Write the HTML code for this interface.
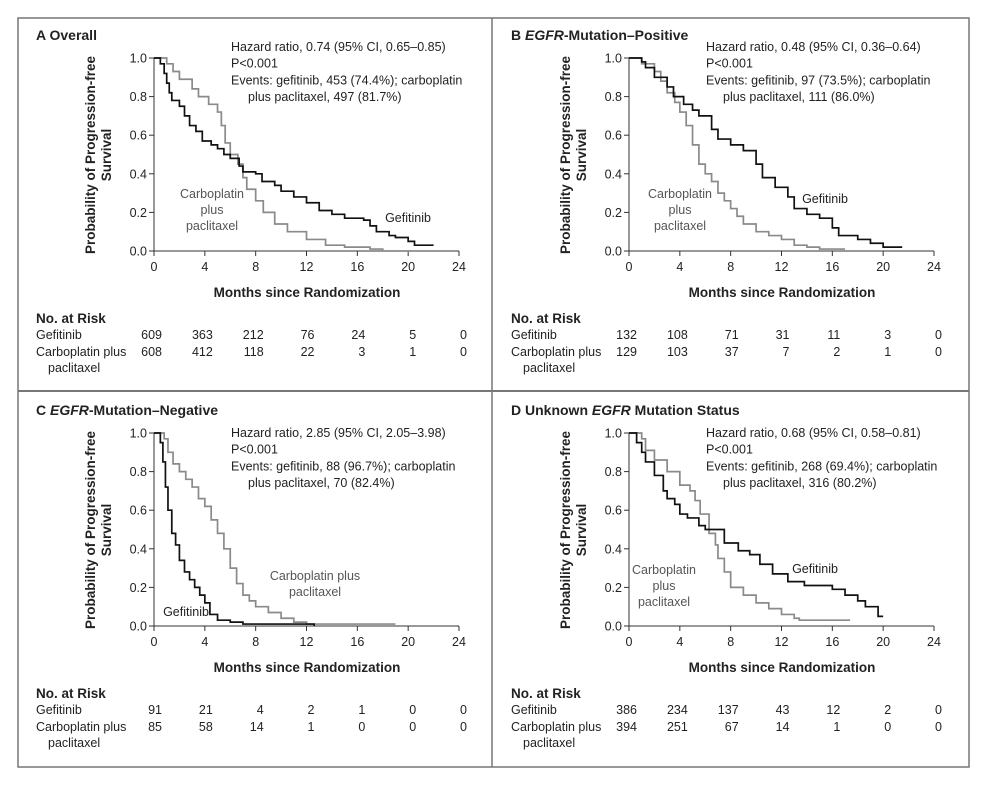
<!DOCTYPE html>
<html><head><meta charset="utf-8"><style>
body{margin:0;background:#fff}
svg{display:block;font-family:"Liberation Sans",sans-serif}
text{fill:#222}
</style></head><body>
<svg id="fig" width="985" height="787">
<rect x="18" y="18" width="951" height="749" fill="#fff" stroke="#777" stroke-width="1.5"/>
<line x1="492" y1="18" x2="492" y2="767" stroke="#777" stroke-width="1.5"/>
<line x1="18" y1="391" x2="969" y2="391" stroke="#777" stroke-width="2"/>
</svg>
<script>
const months=[0,4,8,12,16,20,24];
const yTicks=[0,0.2,0.4,0.6,0.8,1.0];
const gefA=[[0,1],[0.5,.97],[0.8,.92],[1,.87],[1.2,.82],[1.4,.78],[2,.75],[2.4,.70],[2.8,.65],[3.3,.62],[3.8,.57],[4.5,.55],[5,.53],[5.5,.50],[6,.48],[6.7,.44],[7,.41],[8,.40],[8.5,.36],[9.5,.34],[10,.31],[11,.28],[12,.25],[13,.21],[14,.19],[15,.17],[16.5,.16],[17,.13],[17.5,.10],[18.5,.08],[19,.07],[20,.05],[20.5,.03],[22,.03]];
const carA=[[0,1],[1,.97],[1.5,.93],[2,.89],[3,.84],[3.5,.80],[4.3,.76],[5,.72],[5.3,.65],[5.6,.56],[6,.50],[6.6,.45],[7,.38],[7.3,.32],[8,.26],[8.6,.20],[9.5,.14],[10.5,.10],[12,.06],[13.5,.03],[15,.02],[17,.01],[18,0],[20.5,0]];
const gefB=[[0,1],[1,.98],[1.3,.95],[2,.90],[3,.85],[3.5,.80],[4.3,.76],[5,.73],[5.5,.70],[6.5,.63],[7,.58],[8,.55],[9,.52],[10,.45],[10.5,.38],[11.5,.33],[12.5,.28],[13,.22],[14,.19],[15,.17],[16,.12],[16.5,.08],[18,.06],[19,.04],[20,.02],[21.5,.02]];
const carB=[[0,1],[1,.97],[2,.93],[2.5,.88],[3,.82],[3.6,.77],[4,.72],[4.5,.65],[5,.55],[5.5,.45],[6,.40],[6.5,.36],[7,.30],[7.5,.26],[8,.22],[8.5,.18],[9,.14],[10,.10],[11,.08],[12,.06],[13,.03],[14,.02],[15,.01],[17,.01]];
const gefC=[[0,1],[0.5,.95],[0.7,.85],[0.9,.72],[1.1,.60],[1.4,.48],[1.7,.42],[2,.34],[2.4,.28],[2.8,.24],[3.2,.20],[3.6,.16],[4,.12],[4.4,.06],[5,.03],[6,.02],[7,.01],[12.6,.01],[12.6,0]];
const carC=[[0,1],[0.8,.97],[1.1,.90],[1.5,.84],[2,.80],[2.5,.76],[3,.72],[3.5,.66],[4,.62],[4.5,.55],[5,.48],[5.5,.40],[6,.30],[6.5,.22],[7,.16],[7.5,.13],[8,.10],[9,.07],[10,.04],[11,.02],[12,.01],[19,.01]];
const gefD=[[0,1],[0.6,.95],[1,.90],[1.3,.85],[2,.78],[2.7,.70],[3,.66],[3.6,.63],[4,.58],[4.6,.56],[5.5,.52],[6,.50],[7.5,.43],[8.6,.39],[9.5,.37],[10.3,.32],[11.3,.27],[12.5,.23],[13.8,.21],[16,.19],[17,.16],[18,.13],[18.6,.10],[19.6,.05],[20,.05]];
const carD=[[0,1],[1,.97],[1.3,.91],[2,.86],[3,.80],[4,.73],[4.8,.70],[5.2,.65],[5.6,.58],[6.3,.48],[6.8,.42],[7,.35],[7.5,.28],[8,.20],[9,.16],[10,.12],[11,.09],[12,.06],[13,.04],[13.4,.03],[17.4,.03]];
const riskGefA=[609,363,212,76,24,5,0], riskCarA=[608,412,118,22,3,1,0];
const riskGefB=[132,108,71,31,11,3,0], riskCarB=[129,103,37,7,2,1,0];
const riskGefC=[91,21,4,2,1,0,0], riskCarC=[85,58,14,1,0,0,0];
const riskGefD=[386,234,137,43,12,2,0], riskCarD=[394,251,67,14,1,0,0];

const NS='http://www.w3.org/2000/svg';
const svg=document.getElementById('fig');
function el(tag,attrs,txt,parent){const e=document.createElementNS(NS,tag);for(const k in attrs)e.setAttribute(k,attrs[k]);if(txt!==undefined)e.textContent=txt;(parent||svg).appendChild(e);return e;}

const panels=[
 {id:'a',letter:'A',title:[['Overall','normal']],ox:0,oy:0,hrY:51,gef:gefA,car:carA,rg:riskGefA,rc:riskCarA,
  hr:['Hazard ratio, 0.74 (95% CI, 0.65\u20130.85)','P<0.001','Events: gefitinib, 453 (74.4%); carboplatin','plus paclitaxel, 497 (81.7%)'],
  labels:[[212,198,['Carboplatin','plus','paclitaxel'],'#555'],[408,222,['Gefitinib'],'#222']]},
 {id:'b',letter:'B',title:[['EGFR','italic'],['-Mutation\u2013Positive','normal']],ox:475,oy:0,hrY:51,gef:gefB,car:carB,rg:riskGefB,rc:riskCarB,
  hr:['Hazard ratio, 0.48 (95% CI, 0.36\u20130.64)','P<0.001','Events: gefitinib, 97 (73.5%); carboplatin','plus paclitaxel, 111 (86.0%)'],
  labels:[[205,198,['Carboplatin','plus','paclitaxel'],'#555'],[350,203,['Gefitinib'],'#222']]},
 {id:'c',letter:'C',title:[['EGFR','italic'],['-Mutation\u2013Negative','normal']],ox:0,oy:375,hrY:62,gef:gefC,car:carC,rg:riskGefC,rc:riskCarC,
  hr:['Hazard ratio, 2.85 (95% CI, 2.05\u20133.98)','P<0.001','Events: gefitinib, 88 (96.7%); carboplatin','plus paclitaxel, 70 (82.4%)'],
  labels:[[315,205,['Carboplatin plus','paclitaxel'],'#555'],[186,241,['Gefitinib'],'#222']]},
 {id:'d',letter:'D',title:[['Unknown ','normal'],['EGFR','italic'],[' Mutation Status','normal']],ox:475,oy:375,hrY:62,gef:gefD,car:carD,rg:riskGefD,rc:riskCarD,
  hr:['Hazard ratio, 0.68 (95% CI, 0.58\u20130.81)','P<0.001','Events: gefitinib, 268 (69.4%); carboplatin','plus paclitaxel, 316 (80.2%)'],
  labels:[[189,199,['Carboplatin','plus','paclitaxel'],'#555'],[340,198,['Gefitinib'],'#222']]}
];

panels.forEach(p=>{
  const g=el('g',{transform:`translate(${p.ox},${p.oy})`});
  
  
  const x0=154,x1=459,yTop=58,yBot=251;
  const xs=m=>x0+(m/24)*(x1-x0);
  const ys=v=>yBot-v*(yBot-yTop);
  const t=el('text',{x:36,y:40,'font-size':14,'font-weight':'bold'},undefined,g);
  
  
  el('tspan',{},p.letter+'  ',t);
  p.title.forEach(s=>el('tspan',{'font-style':s[1]},s[0],t));
  const ax=el('path',{d:`M${x0},${yTop} V${yBot} H${x1}`,stroke:'#333',fill:'none','stroke-width':1},undefined,g);
  
  
  yTicks.forEach(v=>{
    el('line',{x1:x0-5,x2:x0,y1:ys(v),y2:ys(v),stroke:'#333'},undefined,g);
    const tl=el('text',{x:x0-7,y:ys(v)+4.5,'font-size':12.5,'text-anchor':'end'},v.toFixed(1),g);
    
    
  });
  months.forEach(m=>{
    el('line',{x1:xs(m),x2:xs(m),y1:yBot,y2:yBot+5,stroke:'#333'},undefined,g);
    const tl=el('text',{x:xs(m),y:yBot+20,'font-size':12.5,'text-anchor':'middle'},m,g);
    
    
  });
  const xt=el('text',{x:307,y:297,'font-size':13.5,'font-weight':'bold','text-anchor':'middle'},'Months since Randomization',g);
  
  
  const yt=el('text',{transform:'translate(95,155) rotate(-90)','font-size':13.5,'font-weight':'bold','text-anchor':'middle'},undefined,g);
  
  
  el('tspan',{x:0,y:0},'Probability of Progression-free',yt);
  el('tspan',{x:0,y:16},'Survival',yt);
  function km(data,color,name){
    let d='M'+xs(data[0][0])+','+ys(data[0][1]);
    for(let i=1;i<data.length;i++){d+=' H'+xs(data[i][0])+' V'+ys(data[i][1]);}
    const pth=el('path',{d:d,stroke:color,fill:'none','stroke-width':1.7},undefined,g);
    
    
  }
  km(p.car,'#8a8a8a','carboplatin-curve');
  km(p.gef,'#111','gefitinib-curve');
  const ht=el('g',{},undefined,g);
  
  
  p.hr.forEach((s,i)=>el('text',{x:i==3?248:231,y:p.hrY+i*16.7,'font-size':12.5},s,ht));
  p.labels.forEach(L=>{
    const lt=el('text',{'font-size':12.5,'text-anchor':'middle',style:'fill:'+L[3]},undefined,g);
    
    
    L[2].forEach((s,i)=>el('tspan',{x:L[0],y:L[1]+i*16},s,lt));
  });
  const rt=el('g',{},undefined,g);
  
  
  el('text',{x:36,y:323,'font-size':13.5,'font-weight':'bold'},'No. at Risk',rt);
  el('text',{x:36,y:339,'font-size':12.5},'Gefitinib',rt);
  el('text',{x:36,y:356,'font-size':12.5},'Carboplatin plus',rt);
  el('text',{x:48,y:372,'font-size':12.5},'paclitaxel',rt);
  months.forEach((m,i)=>{
    el('text',{x:xs(m)+8,y:339,'font-size':12.5,'text-anchor':'end'},p.rg[i],rt);
    el('text',{x:xs(m)+8,y:356,'font-size':12.5,'text-anchor':'end'},p.rc[i],rt);
  });
});
</script>
</body></html>
